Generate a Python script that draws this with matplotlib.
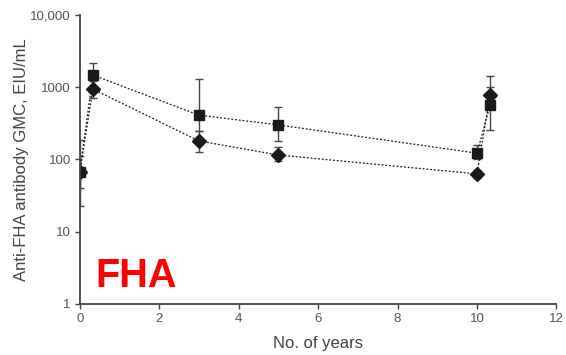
import matplotlib
matplotlib.use("Agg")
import matplotlib.pyplot as plt
from matplotlib.ticker import FixedLocator, NullLocator

years = [0, 0.33, 3, 5, 10, 10.33]
sq_gmc = [67, 1470, 410, 300, 122, 565]
sq_lo = [23, 1000, 250, 180, 100, 255]
sq_hi = [185, 2150, 1300, 530, 158, 1000]
dm_gmc = [67, 940, 180, 115, 63, 780]
dm_lo = [40, 700, 126, 95, 55, 500]
dm_hi = [110, 1200, 250, 150, 72, 1420]

xticks = [0, 2, 4, 6, 8, 10, 12]
yticks = [1, 10, 100, 1000, 10000]
yticklabels = ["1", "10", "100", "1000", "10,000"]

plt.rcParams["font.family"] = ["Liberation Sans", "DejaVu Sans"]

fig = plt.figure(figsize=(5.66, 3.55), dpi=100)
ax = fig.add_axes([0.141, 0.144, 0.842, 0.814])

col = "#1a1a1a"
for g, lo, hi, m in [(sq_gmc, sq_lo, sq_hi, "s"), (dm_gmc, dm_lo, dm_hi, "D")]:
    yerr = [[gi - l for gi, l in zip(g, lo)], [h - gi for gi, h in zip(g, hi)]]
    ax.errorbar(years, g, yerr=yerr, fmt=m, color=col, ls=(0, (1.5, 1.5)),
                lw=0.9, ms=7, elinewidth=1.0, capsize=3, capthick=1.0,
                ecolor="#444444")

ax.set_yscale("log")
ax.set_xlim(0, 12)
ax.set_ylim(1, 10000)
ax.xaxis.set_major_locator(FixedLocator(xticks))
ax.yaxis.set_major_locator(FixedLocator(yticks))
ax.yaxis.set_minor_locator(NullLocator())
ax.set_yticklabels(yticklabels)
for s in ["top", "right"]:
    ax.spines[s].set_visible(False)
for s in ["left", "bottom"]:
    ax.spines[s].set_color("#444444")
    ax.spines[s].set_linewidth(1.3)
ax.tick_params(axis="both", labelsize=9.5, colors="#444444", length=3.5,
               width=1.0, labelcolor="#555555", pad=3)
ax.set_xlabel("No. of years", fontsize=12, color="#444444", labelpad=8)
ax.set_ylabel("Anti-FHA antibody GMC, EIU/mL", fontsize=12, color="#444444",
              labelpad=1)
ax.text(0.033, 0.059, "FHA", transform=ax.transAxes, fontsize=28.5,
        fontweight="bold", color="#ff0000", ha="left", va="baseline")

fig.savefig("out.png", dpi=100)
